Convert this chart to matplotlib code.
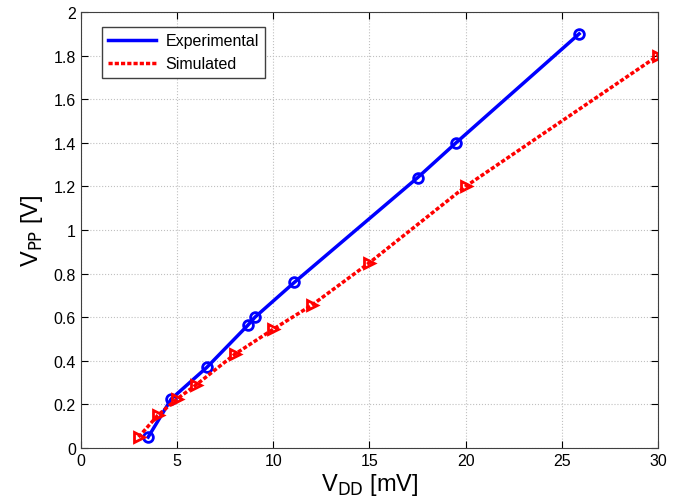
import numpy as np
import matplotlib
matplotlib.use('Agg')
import matplotlib.pyplot as plt

plt.rcParams['font.family'] = ['Liberation Sans', 'DejaVu Sans']

# measured data
vdd_exp = [3.5, 4.7, 6.55, 8.7, 9.05, 11.1, 17.5, 19.5, 25.9]
vpp_exp = [0.05, 0.225, 0.37, 0.565, 0.6, 0.76, 1.24, 1.4, 1.9]

# simulated data
vdd_sim = [3, 4, 5, 6, 8, 10, 12, 15, 20, 30]
vpp_sim = [0.05, 0.15, 0.225, 0.29, 0.43, 0.545, 0.655, 0.85, 1.2, 1.8]

fig = plt.figure(figsize=(6.85, 5.02), dpi=100)
ax = fig.add_axes([0.118, 0.1056, 0.8426, 0.8684])

ax.plot(vdd_exp, vpp_exp, '-o', color='#0000ff', lw=2.5, ms=7,
        mfc='none', mew=2, label='Experimental')
ax.plot(vdd_sim, vpp_sim, marker='>', ls=(0, (1.2, 0.6)), color='#ff0000',
        lw=2.5, ms=7, mfc='none', mew=2, label='Simulated')

ax.set_xlim(0, 30)
ax.set_ylim(0, 2)
ax.set_xticks(np.arange(0, 31, 5))
ax.set_yticks(np.arange(0, 2.01, 0.2))
ax.set_yticklabels(['0', '0.2', '0.4', '0.6', '0.8', '1', '1.2', '1.4', '1.6', '1.8', '2'])
ax.tick_params(direction='in', top=True, right=True, labelsize=11.5, length=5)
ax.grid(True, ls=':', color='#c0c0c0', lw=0.8)
for s in ax.spines.values():
    s.set_color('#404040')

ax.set_xlabel(r'V$_{\mathrm{DD}}$ [mV]', fontsize=17, labelpad=2)
ax.set_ylabel(r'V$_{\mathrm{PP}}$ [V]', fontsize=17, labelpad=6)

leg = ax.legend(loc='upper left', bbox_to_anchor=(0.036, 0.966), borderaxespad=0,
                fontsize=11.5, fancybox=False, edgecolor='#404040', framealpha=1,
                handlelength=3.0, handletextpad=0.6)
for h in leg.legend_handles:
    h.set_marker('')

fig.savefig('out.png', dpi=100)
